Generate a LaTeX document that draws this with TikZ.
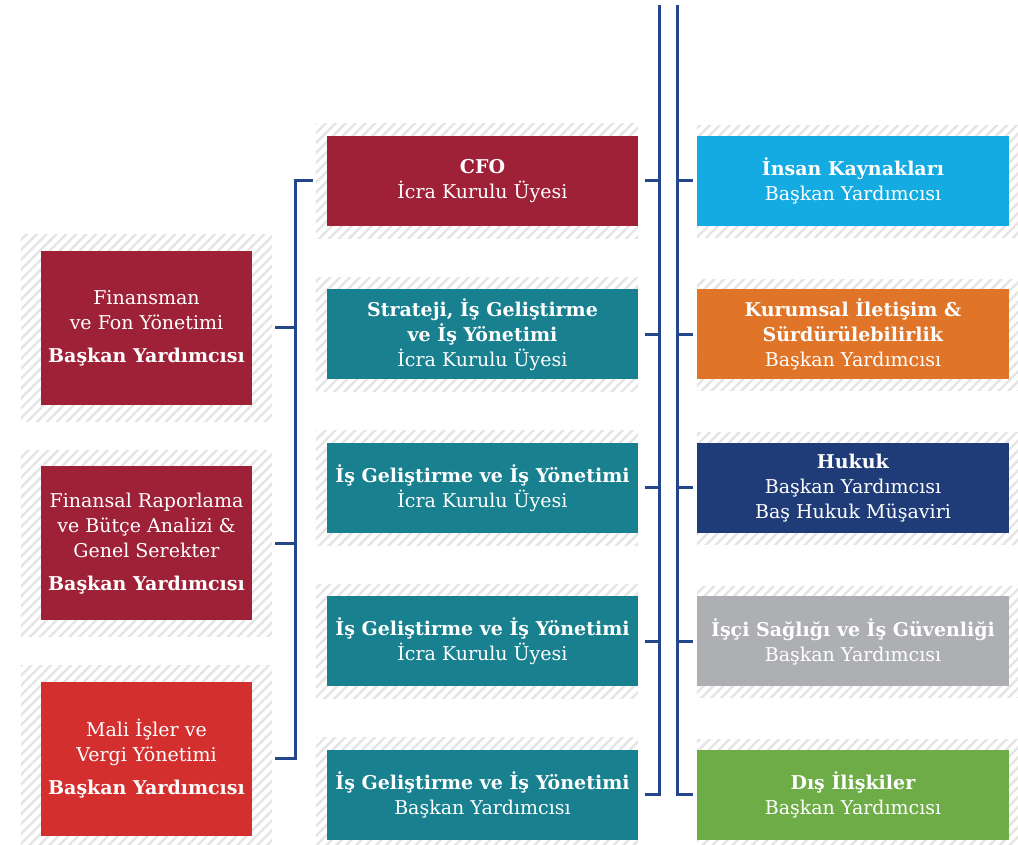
\documentclass[tikz,border=0pt]{standalone}
\usepackage{fontspec}
\setmainfont{DejaVu Serif}
\usetikzlibrary{patterns.meta,backgrounds}

\definecolor{wine}{RGB}{158,33,55}
\definecolor{signalred}{RGB}{211,47,47}
\definecolor{petrol}{RGB}{24,128,143}
\definecolor{sky}{RGB}{20,170,226}
\definecolor{amber}{RGB}{224,116,40}
\definecolor{navy}{RGB}{31,60,120}
\definecolor{ash}{RGB}{173,175,178}
\definecolor{leaf}{RGB}{109,172,71}
\definecolor{linkblue}{RGB}{38,70,140}
\definecolor{hatchgrey}{RGB}{228,228,228}

\begin{document}
\begin{tikzpicture}[x=1pt, y=1pt, node distance=153.5pt,
    box/.style={align=center, text=white, inner sep=0pt, font=\fontsize{19}{25}\selectfont},
    midbox/.style={box, minimum width=311pt, minimum height=90pt},
    rightbox/.style={box, minimum width=312pt, minimum height=90pt},
    sidebox/.style={box, minimum width=211pt, minimum height=154pt},
    link/.style={draw=linkblue, line width=3pt},
    hatch/.style={pattern={Lines[angle=45, distance=7pt, line width=2.4pt]}, pattern color=hatchgrey}]

  \useasboundingbox (0,0) rectangle (1018,845);

  % Middle column
  \node[midbox, fill=wine] (m1) at (482.5,664) {\textbf{CFO}\\İcra Kurulu Üyesi};
  \node[midbox, fill=petrol, below of=m1] (m2) {\textbf{Strateji, İş Geliştirme}\\\textbf{ve İş Yönetimi}\\İcra Kurulu Üyesi};
  \node[midbox, fill=petrol, below of=m2] (m3) {\textbf{İş Geliştirme ve İş Yönetimi}\\İcra Kurulu Üyesi};
  \node[midbox, fill=petrol, below of=m3] (m4) {\textbf{İş Geliştirme ve İş Yönetimi}\\İcra Kurulu Üyesi};
  \node[midbox, fill=petrol, below of=m4] (m5) {\textbf{İş Geliştirme ve İş Yönetimi}\\Başkan Yardımcısı};

  % Right column
  \node[rightbox, fill=sky, node distance=370.5pt, right of=m1] (r1) {\textbf{İnsan Kaynakları}\\Başkan Yardımcısı};
  \node[rightbox, fill=amber, below of=r1] (r2) {\textbf{Kurumsal İletişim \&}\\\textbf{Sürdürülebilirlik}\\Başkan Yardımcısı};
  \node[rightbox, fill=navy, below of=r2] (r3) {\textbf{Hukuk}\\Başkan Yardımcısı\\Baş Hukuk Müşaviri};
  \node[rightbox, fill=ash, below of=r3] (r4) {\textbf{İşçi Sağlığı ve İş Güvenliği}\\Başkan Yardımcısı};
  \node[rightbox, fill=leaf, below of=r4] (r5) {\textbf{Dış İlişkiler}\\Başkan Yardımcısı};

  % Left column
  \node[sidebox, fill=wine] (l1) at (146.5,517) {Finansman\\ve Fon Yönetimi\\[8pt]\textbf{Başkan Yardımcısı}};
  \node[sidebox, fill=wine, node distance=215.5pt, below of=l1] (l2) {Finansal Raporlama\\ve Bütçe Analizi \&\\Genel Serekter\\[8pt]\textbf{Başkan Yardımcısı}};
  \node[sidebox, fill=signalred, node distance=215.5pt, below of=l2] (l3) {Mali İşler ve\\Vergi Yönetimi\\[8pt]\textbf{Başkan Yardımcısı}};

  % Striped backdrops
  \begin{pgfonlayer}{background}
    \foreach \i in {1,2,3}
      \fill[hatch] ([shift={(-20pt,16pt)}]l\i.north west) rectangle ([shift={(20pt,-16pt)}]l\i.south east);
    \foreach \i in {1,...,5} {
      \fill[hatch] ([shift={(-11pt,12pt)}]m\i.north west) rectangle ([shift={(0pt,-12pt)}]m\i.south east);
      \fill[hatch] ([shift={(0pt,10pt)}]r\i.north west) rectangle ([shift={(10pt,-11pt)}]r\i.south east);
    }
  \end{pgfonlayer}

  % Bus lines
  \coordinate (lbus) at (295,662);
  \coordinate (mbus) at (659,840);
  \coordinate (rbus) at (677,840);

  % Left bracket
  \draw[link] ([xshift=-14pt]m1.west) -| (l3 -| lbus) -- ([xshift=23pt]l3.east);
  \draw[link] ([xshift=23pt]l1.east) -- (l1 -| lbus);
  \draw[link] ([xshift=23pt]l2.east) -- (l2 -| lbus);

  % Middle and right buses
  \draw[link] (mbus) |- ([xshift=7pt]m5.east);
  \draw[link] (rbus) |- ([xshift=-4pt]r5.west);
  \foreach \i in {1,...,4} {
    \draw[link] ([xshift=7pt]m\i.east) -- (m\i -| mbus);
    \draw[link] ([xshift=-4pt]r\i.west) -- (r\i -| rbus);
  }

\end{tikzpicture}
\end{document}
